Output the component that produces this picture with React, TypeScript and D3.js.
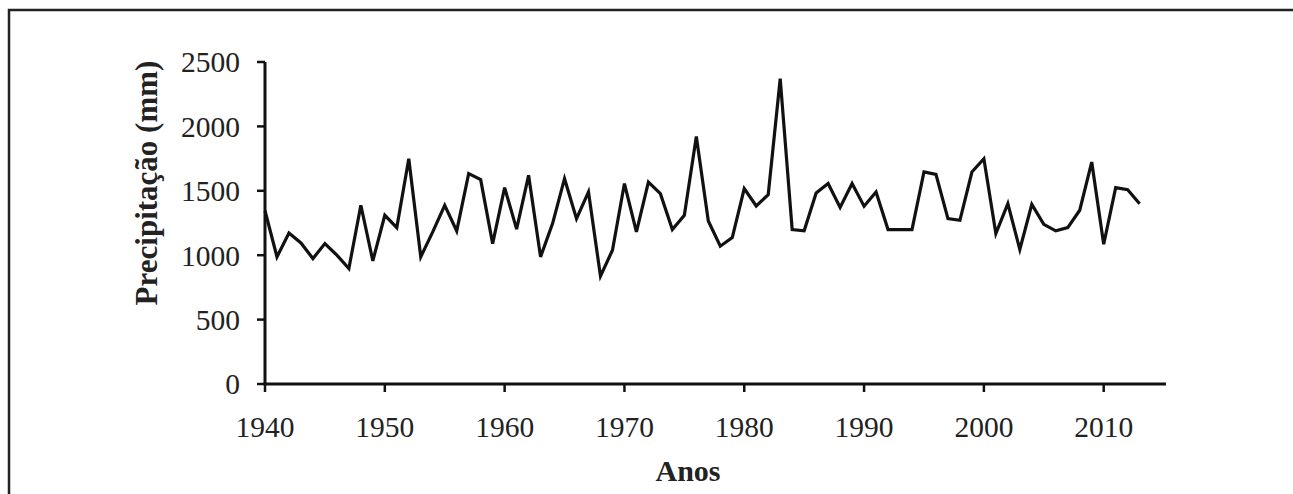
import React from "react";
import * as d3 from "d3";

const years: number[] = d3.range(1940, 2014);
const precipitation: number[] = [
  1345, 987, 1173, 1095, 974, 1090, 1000, 897, 1388, 956,
  1310, 1214, 1749, 987, 1181, 1388, 1189, 1633, 1587, 1090,
  1525, 1202, 1620, 987, 1245, 1594, 1284, 1491, 837, 1039,
  1556, 1181, 1568, 1478, 1199, 1310, 1922, 1266, 1070, 1137,
  1517, 1382, 1470, 2370, 1199, 1189, 1483, 1556, 1370, 1556,
  1380, 1491, 1199, 1199, 1199, 1646, 1628, 1284, 1271, 1646,
  1749, 1168, 1400, 1044, 1395, 1240, 1189, 1214, 1349, 1723,
  1085, 1525, 1509, 1400,
];
const xTicks: number[] = [1940, 1950, 1960, 1970, 1980, 1990, 2000, 2010];
const yTicks: number[] = [0, 500, 1000, 1500, 2000, 2500];

const W = 1293;
const H = 494;

export default function App() {
  const x = d3.scaleLinear().domain([1940, 2015.2]).range([265, 1166]);
  const y = d3.scaleLinear().domain([0, 2500]).range([384, 62]);
  const line = d3
    .line<number>()
    .x((_, i) => x(years[i]))
    .y((d) => y(d));
  const font = "'Liberation Serif', 'Times New Roman', serif";
  const col = "#111";
  return (
    <svg
      width={W}
      height={H}
      style={{ position: "fixed", left: 0, top: 0, background: "#fff" }}
      fontFamily={font}
    >
      <rect x={0} y={0} width={W} height={H} fill="#fff" />
      {/* frame */}
      <path d={`M9,${H + 5} L9,10 L${W + 5},10`} fill="none" stroke="#222" strokeWidth={2.5} />
      {/* y axis */}
      <line x1={x(1940)} x2={x(1940)} y1={y(2500)} y2={y(0)} stroke={col} strokeWidth={3} />
      {yTicks.map((t) => (
        <g key={"y" + t}>
          <line x1={257} x2={x(1940)} y1={y(t)} y2={y(t)} stroke={col} strokeWidth={2.5} />
          <text x={240} y={y(t)} dy="0.35em" textAnchor="end" fontSize={29.5} fill="#222">
            {t}
          </text>
        </g>
      ))}
      {/* x axis */}
      <line x1={x(1940) - 1.5} x2={x(2015.2)} y1={y(0)} y2={y(0)} stroke={col} strokeWidth={3} />
      {xTicks.map((t) => (
        <g key={"x" + t}>
          <line x1={x(t)} x2={x(t)} y1={y(0)} y2={y(0) + 8} stroke={col} strokeWidth={2.5} />
          <text x={x(t)} y={437} textAnchor="middle" fontSize={29.5} fill="#222">
            {t}
          </text>
        </g>
      ))}
      {/* data line */}
      <path d={line(precipitation) || ""} fill="none" stroke={col} strokeWidth={3.2} strokeLinejoin="miter" />
      {/* axis titles */}
      <text x={688} y={481} textAnchor="middle" fontSize={30} fontWeight="bold" fill="#222">
        Anos
      </text>
      <text
        transform={`translate(157,183) rotate(-90)`}
        textAnchor="middle"
        fontSize={31}
        fontWeight="bold"
        fill="#222"
      >
        Precipitação (mm)
      </text>
    </svg>
  );
}
